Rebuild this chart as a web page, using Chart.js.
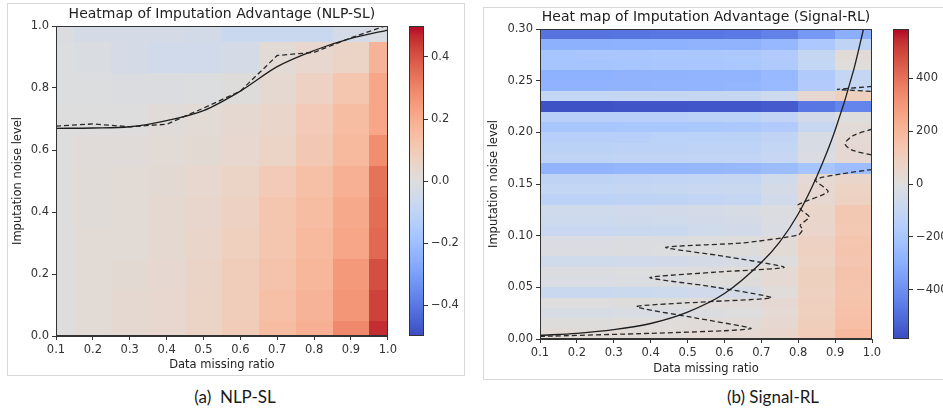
<!DOCTYPE html>
<html>
<head>
<meta charset="utf-8">
<script src="https://cdn.jsdelivr.net/npm/chart.js@4.4.1/dist/chart.umd.min.js"></script>
<style>
    html, body { margin: 0; padding: 0; background: #fff; width: 943px; height: 411px; overflow: hidden; }
    canvas { position: absolute; }
    .frame { position: absolute; border: 1px solid #d8d8d8; box-sizing: border-box; }
    .caption { position: absolute; top: 386px; height: 22px; line-height: 22px; text-align: center;
               font-family: Lato, 'Open Sans', sans-serif; font-size: 17px; color: #1a1a1a; white-space: pre; }
</style>
</head>
<body>
<div class="frame" style="left:7px;top:3px;width:458px;height:373px"></div>
<div class="frame" style="left:483px;top:7px;width:480px;height:373px"></div>

<canvas id="nlp-heat" width="400" height="380" style="left:0;top:0"></canvas>
<canvas id="nlp-bar" width="60" height="380" style="left:409px;top:0"></canvas>
<canvas id="sig-heat" width="420" height="385" style="left:470px;top:0"></canvas>
<canvas id="sig-bar" width="80" height="385" style="left:893px;top:0"></canvas>

<div class="caption" style="left:135px;width:200px">(a)  NLP-SL</div>
<div class="caption" style="left:673px;width:200px">(b) Signal-RL</div>

<script>
/**
 * Heatmaps of imputation advantage (NLP-SL and Signal-RL)
 */

// ---- (a) NLP-SL ----
var nlpMissingEdges = [0.05, 0.15, 0.25, 0.35, 0.45, 0.55, 0.65, 0.75, 0.85, 0.95, 1.05];
var nlpNoiseEdges = [-0.05, 0.05, 0.15, 0.25, 0.35, 0.45, 0.55, 0.65, 0.75, 0.85, 0.95, 1.05];
// one row per noise level (0.0 at the bottom), one value per missing ratio 0.1 .. 1.0
var nlpAdvantage = [
    [0.0, 0.02, 0.03, 0.04, 0.06, 0.095, 0.15, 0.19, 0.29, 0.46],
    [0.0, 0.02, 0.03, 0.04, 0.06, 0.09, 0.14, 0.18, 0.26, 0.43],
    [0.0, 0.02, 0.025, 0.035, 0.055, 0.09, 0.13, 0.17, 0.25, 0.41],
    [0.0, 0.02, 0.02, 0.03, 0.05, 0.08, 0.12, 0.16, 0.22, 0.36],
    [0.0, 0.015, 0.02, 0.03, 0.045, 0.07, 0.12, 0.15, 0.21, 0.35],
    [0.0, 0.015, 0.02, 0.025, 0.04, 0.06, 0.10, 0.14, 0.19, 0.34],
    [0.0, 0.01, 0.01, 0.02, 0.025, 0.04, 0.06, 0.11, 0.16, 0.28],
    [0.0, 0.0, 0.0, 0.01, 0.02, 0.03, 0.05, 0.10, 0.15, 0.22],
    [-0.005, -0.005, -0.01, -0.01, -0.005, 0.005, 0.03, 0.07, 0.12, 0.22],
    [-0.005, -0.015, -0.03, -0.05, -0.05, -0.03, 0.02, 0.04, 0.06, 0.18],
    [-0.01, -0.03, -0.03, -0.03, -0.04, -0.07, -0.07, -0.07, -0.035, -0.015]
];
var nlpCurveX = [0.1, 0.2, 0.3, 0.4, 0.5, 0.6, 0.7, 0.8, 0.9, 1.0];
var nlpFittedY = [0.670, 0.671, 0.675, 0.695, 0.727, 0.790, 0.869, 0.921, 0.960, 0.987];
var nlpEmpiricalY = [0.677, 0.684, 0.675, 0.683, 0.735, 0.790, 0.905, 0.915, 0.962, 1.003];
var nlpXTicks = [0.1, 0.2, 0.3, 0.4, 0.5, 0.6, 0.7, 0.8, 0.9, 1.0];
var nlpYTicks = [0.0, 0.2, 0.4, 0.6, 0.8, 1.0];
var nlpBarTicks = [-0.4, -0.2, 0.0, 0.2, 0.4];

// ---- (b) Signal-RL ----
var sigMissingEdges = [0.1, 0.2, 0.3, 0.4, 0.5, 0.6, 0.7, 0.8, 0.9, 1.0];
var sigNoiseEdges = [0.00, 0.01, 0.02, 0.03, 0.04, 0.05, 0.06, 0.07, 0.08, 0.09, 0.10,
    0.11, 0.12, 0.13, 0.14, 0.15, 0.16, 0.17, 0.18, 0.19, 0.20,
    0.21, 0.22, 0.23, 0.24, 0.25, 0.26, 0.27, 0.28, 0.29, 0.30];
// one row per noise bin (0.00 at the bottom), one value per missing-ratio bin
var sigAdvantage = [
    [20, 20, 25, 25, 30, 35, 50, 110, 185],
    [5, 5, 10, 10, 15, 20, 40, 100, 165],
    [-30, -30, -25, -20, -10, 0, 30, 95, 160],
    [0, 0, 5, 5, 10, 15, 35, 95, 155],
    [-80, -80, -75, -70, -55, -40, 10, 85, 145],
    [-20, -20, -15, -10, 0, 5, 30, 90, 150],
    [-10, -10, -5, 0, 5, 10, 30, 90, 150],
    [-60, -60, -55, -50, -40, -30, 0, 75, 135],
    [-15, -15, -10, -5, 0, 5, 25, 85, 145],
    [-20, -20, -15, -10, 0, 5, 20, 80, 140],
    [-85, -85, -80, -75, -60, -50, -20, 55, 125],
    [-70, -70, -65, -60, -50, -40, -15, 60, 130],
    [-60, -60, -55, -50, -40, -30, -10, 60, 130],
    [-130, -130, -125, -120, -110, -100, -55, 40, 80],
    [-105, -105, -100, -95, -85, -80, -40, 40, 75],
    [-120, -120, -115, -110, -105, -100, -60, 30, 60],
    [-275, -275, -270, -270, -265, -260, -245, -210, -240],
    [-120, -120, -115, -115, -110, -110, -90, -15, 35],
    [-135, -135, -130, -130, -125, -125, -105, -30, 35],
    [-150, -150, -145, -140, -140, -135, -115, -30, 30],
    [-205, -205, -200, -200, -195, -190, -170, -90, 20],
    [-150, -150, -145, -145, -140, -140, -115, -50, 0],
    [-570, -570, -565, -565, -560, -560, -545, -470, -430],
    [-105, -105, -100, -100, -95, -95, -70, 40, 90],
    [-280, -280, -280, -275, -275, -270, -250, -170, -95],
    [-285, -285, -280, -280, -275, -275, -255, -175, -100],
    [-210, -210, -205, -200, -200, -195, -175, -105, 10],
    [-205, -200, -200, -195, -195, -190, -170, -100, 20],
    [-290, -290, -285, -285, -280, -280, -260, -190, -120],
    [-480, -480, -475, -470, -470, -465, -440, -370, -300]
];
var sigFittedX = [0.1, 0.2, 0.3, 0.4, 0.5, 0.6, 0.7, 0.75, 0.8, 0.85, 0.9, 0.95, 0.977];
var sigFittedY = [0.0035, 0.0055, 0.009, 0.015, 0.026, 0.044, 0.074, 0.094, 0.121, 0.157, 0.202, 0.26, 0.30];
// zero contour, three pieces
var sigContourAX = [0.10, 0.40, 0.60, 0.672, 0.52, 0.362, 0.55, 0.728, 0.56, 0.398, 0.59, 0.762, 0.60, 0.441, 0.65, 0.80, 0.812, 0.805, 0.83, 0.808, 0.80, 0.881, 0.846, 0.92, 1.0];
var sigContourAY = [0.0025, 0.0055, 0.008, 0.0103, 0.0205, 0.0313, 0.036, 0.040, 0.051, 0.0594, 0.065, 0.0694, 0.080, 0.0887, 0.093, 0.1006, 0.106, 0.110, 0.118, 0.125, 0.130, 0.1426, 0.154, 0.160, 0.164];
var sigContourBX = [1.0, 0.95, 0.927, 0.945, 1.0];
var sigContourBY = [0.203, 0.197, 0.189, 0.183, 0.178];
var sigContourCX = [1.0, 0.905, 1.0];
var sigContourCY = [0.2445, 0.2415, 0.2395];
var sigXTicks = [0.1, 0.2, 0.3, 0.4, 0.5, 0.6, 0.7, 0.8, 0.9, 1.0];
var sigYTicks = [0.00, 0.05, 0.10, 0.15, 0.20, 0.25, 0.30];
var sigBarTicks = [-400, -200, 0, 200, 400];

// matplotlib "coolwarm" control points
var COOLWARM = [
    [59, 76, 192], [68, 90, 204], [77, 104, 215], [87, 117, 225], [98, 130, 234], [108, 142, 241],
    [119, 154, 247], [130, 165, 251], [141, 176, 254], [152, 185, 255], [163, 194, 255], [174, 201, 253],
    [184, 208, 249], [194, 213, 244], [204, 217, 238], [213, 219, 230], [221, 221, 221], [229, 216, 209],
    [236, 211, 197], [241, 204, 185], [245, 196, 173], [247, 187, 160], [247, 177, 148], [247, 166, 135],
    [244, 154, 123], [241, 141, 111], [236, 127, 99], [229, 112, 88], [222, 96, 77], [213, 80, 66],
    [203, 62, 56], [192, 40, 47], [180, 4, 38]
];

var FONT = 'DejaVu Sans';
var INK = '#333';
var TICK_FONT = { family: FONT, size: 11.5 };
var LABEL_FONT = { family: FONT, size: 11.5 };

/**
 * Colour for a position 0..1 on the coolwarm map
 * @param {number} t
 */
function coolwarm(t) {
    t = Math.max(0, Math.min(1, t));
    var p = t * (COOLWARM.length - 1), i = Math.min(Math.floor(p), COOLWARM.length - 2), f = p - i;
    var a = COOLWARM[i], b = COOLWARM[i + 1];
    return 'rgb(' + Math.round(a[0] + (b[0] - a[0]) * f) + ',' + Math.round(a[1] + (b[1] - a[1]) * f) + ',' + Math.round(a[2] + (b[2] - a[2]) * f) + ')';
}

/**
 * Pairs two arrays into scatter points
 */
function toPoints(xs, ys) {
    return xs.map(function(x, i) { return {x: x, y: ys[i]}; });
}

function minusSign(text) {
    return text.replace('-', '\u2212');
}

/**
 * Plugin that paints the heatmap cells through the chart scales
 */
function heatmapPlugin(xEdges, yEdges, values, vmax) {
    return {
        id: 'heatmap',
        beforeDatasetsDraw: function(chart) {
            var ctx = chart.ctx, area = chart.chartArea, sx = chart.scales.x, sy = chart.scales.y;
            ctx.save();
            ctx.beginPath();
            ctx.rect(area.left, area.top, area.right - area.left, area.bottom - area.top);
            ctx.clip();
            for (var r = 0; r < values.length; r++) {
                var y0 = Math.round(sy.getPixelForValue(yEdges[r]));
                var y1 = Math.round(sy.getPixelForValue(yEdges[r + 1]));
                for (var c = 0; c < values[r].length; c++) {
                    var x0 = Math.round(sx.getPixelForValue(xEdges[c]));
                    var x1 = Math.round(sx.getPixelForValue(xEdges[c + 1]));
                    ctx.fillStyle = coolwarm((values[r][c] + vmax) / (2 * vmax));
                    ctx.fillRect(x0, y1, x1 - x0, y0 - y1);
                }
            }
            ctx.restore();
        },
        afterDatasetsDraw: function(chart) {
            var ctx = chart.ctx, a = chart.chartArea;
            ctx.save();
            ctx.strokeStyle = INK;
            ctx.lineWidth = 1;
            ctx.strokeRect(Math.round(a.left) + 0.5, Math.round(a.top) + 0.5, Math.round(a.right - a.left) - 1, Math.round(a.bottom - a.top) - 1);
            ctx.restore();
        }
    };
}

/**
 * Plugin that paints the colour bar gradient
 */
var colorbarPlugin = {
    id: 'colorbar',
    beforeDatasetsDraw: function(chart) {
        var ctx = chart.ctx, a = chart.chartArea, sy = chart.scales.y;
        var lo = sy.min, hi = sy.max;
        for (var py = Math.round(a.top); py < Math.round(a.bottom); py++) {
            var v = sy.getValueForPixel(py + 0.5);
            ctx.fillStyle = coolwarm((v - lo) / (hi - lo));
            ctx.fillRect(a.left, py, a.right - a.left, 1);
        }
        ctx.strokeStyle = INK;
        ctx.lineWidth = 1;
        ctx.strokeRect(Math.round(a.left) + 0.5, Math.round(a.top) + 0.5, Math.round(a.right - a.left) - 1, Math.round(a.bottom - a.top) - 1);
    }
};

function tickList(list) {
    return function(scale) {
        scale.ticks = list.map(function(v) { return {value: v}; });
    };
}

function axisStyle(extra) {
    var base = {
        type: 'linear',
        grid: { drawOnChartArea: false, drawTicks: true, tickLength: 4, color: INK },
        border: { color: INK }
    };
    return Object.assign(base, extra);
}

/**
 * Builds one heatmap panel
 */
function initHeatmap(id, cfg) {
    return new Chart(document.getElementById(id), {
        type: 'scatter',
        data: { datasets: cfg.datasets },
        options: {
            responsive: false,
            animation: false,
            events: [],
            layout: { padding: cfg.padding },
            plugins: {
                legend: { display: false },
                tooltip: { enabled: false },
                title: {
                    display: true,
                    text: cfg.title,
                    fullSize: false,
                    color: '#222',
                    font: { family: FONT, size: 14, weight: 'normal' },
                    padding: cfg.titlePadding
                }
            },
            scales: {
                x: axisStyle({
                    min: cfg.xMin, max: cfg.xMax,
                    afterBuildTicks: tickList(cfg.xTicks),
                    afterFit: function(s) { s.height = cfg.xHeight; },
                    ticks: { color: INK, font: TICK_FONT, padding: 3, maxRotation: 0, autoSkip: false,
                             callback: function(v) { return v.toFixed(1); } },
                    title: { display: true, text: 'Data missing ratio', color: '#222', font: LABEL_FONT, padding: { top: 0, bottom: cfg.xTitleGap } }
                }),
                y: axisStyle({
                    min: cfg.yMin, max: cfg.yMax,
                    afterBuildTicks: tickList(cfg.yTicks),
                    afterFit: function(s) { s.width = cfg.yWidth; },
                    ticks: { color: INK, font: TICK_FONT, padding: 3, autoSkip: false,
                             callback: function(v) { return v.toFixed(cfg.yDigits); } },
                    title: { display: true, text: 'Imputation noise level', color: '#222', font: LABEL_FONT, padding: { top: cfg.yTitleGap, bottom: 0 } }
                })
            }
        },
        plugins: [heatmapPlugin(cfg.xEdges, cfg.yEdges, cfg.values, cfg.vmax)]
    });
}

/**
 * Builds a colour bar
 */
function initColorbar(id, cfg) {
    return new Chart(document.getElementById(id), {
        type: 'scatter',
        data: { datasets: [] },
        options: {
            responsive: false,
            animation: false,
            events: [],
            layout: { padding: cfg.padding },
            plugins: { legend: { display: false }, tooltip: { enabled: false } },
            scales: {
                x: { display: false, min: 0, max: 1 },
                y: axisStyle({
                    position: 'right',
                    min: -cfg.vmax, max: cfg.vmax,
                    afterBuildTicks: tickList(cfg.ticks),
                    afterFit: function(s) { s.width = cfg.width; },
                    border: { display: false },
                    ticks: { color: INK, font: TICK_FONT, padding: 3, autoSkip: false,
                             callback: function(v) { return minusSign(cfg.format(v)); } }
                })
            }
        },
        plugins: [colorbarPlugin]
    });
}

function lineSet(points, dashed, extra) {
    return Object.assign({
        data: points,
        showLine: true,
        pointRadius: 0,
        borderColor: dashed ? '#2a2a2a' : '#1e1e1e',
        borderWidth: 1.3,
        borderDash: dashed ? [5, 3] : [],
        fill: false
    }, extra || {});
}

initHeatmap('nlp-heat', {
    title: 'Heatmap of Imputation Advantage (NLP-SL)',
    padding: { left: 8, right: 12, top: 0, bottom: 4 },
    titlePadding: { top: 5.6, bottom: 3.6 },
    xMin: 0.1, xMax: 1.0, yMin: 0, yMax: 1.0,
    xTicks: nlpXTicks, yTicks: nlpYTicks, yDigits: 1,
    xHeight: 40, yWidth: 48, xTitleGap: 4, yTitleGap: 3,
    xEdges: nlpMissingEdges, yEdges: nlpNoiseEdges, values: nlpAdvantage, vmax: 0.5,
    datasets: [
        lineSet(toPoints(nlpCurveX, nlpFittedY), false, { cubicInterpolationMode: 'monotone' }),
        lineSet(toPoints(nlpCurveX, nlpEmpiricalY), true, { tension: 0 })
    ]
});

initColorbar('nlp-bar', {
    padding: { left: 0, right: 0, top: 26, bottom: 44 },
    width: 45, vmax: 0.5, ticks: nlpBarTicks,
    format: function(v) { return v.toFixed(1); }
});

initHeatmap('sig-heat', {
    title: 'Heat map of Imputation Advantage (Signal-RL)',
    padding: { left: 14, right: 18, top: 0, bottom: 4 },
    titlePadding: { top: 8.6, bottom: 3.6 },
    xMin: 0.1, xMax: 1.0, yMin: 0, yMax: 0.30,
    xTicks: sigXTicks, yTicks: sigYTicks, yDigits: 2,
    xHeight: 42, yWidth: 56, xTitleGap: 5, yTitleGap: 3,
    xEdges: sigMissingEdges, yEdges: sigNoiseEdges, values: sigAdvantage, vmax: 585,
    datasets: [
        lineSet(toPoints(sigFittedX, sigFittedY), false, { cubicInterpolationMode: 'monotone' }),
        lineSet(toPoints(sigContourAX, sigContourAY), true, { tension: 0.2 }),
        lineSet(toPoints(sigContourBX, sigContourBY), true, { tension: 0.3 }),
        lineSet(toPoints(sigContourCX, sigContourCY), true, { tension: 0 })
    ]
});

initColorbar('sig-bar', {
    padding: { left: 0, right: 0, top: 29, bottom: 46 },
    width: 64, vmax: 585, ticks: sigBarTicks,
    format: function(v) { return String(v); }
});
</script>
</body>
</html>
